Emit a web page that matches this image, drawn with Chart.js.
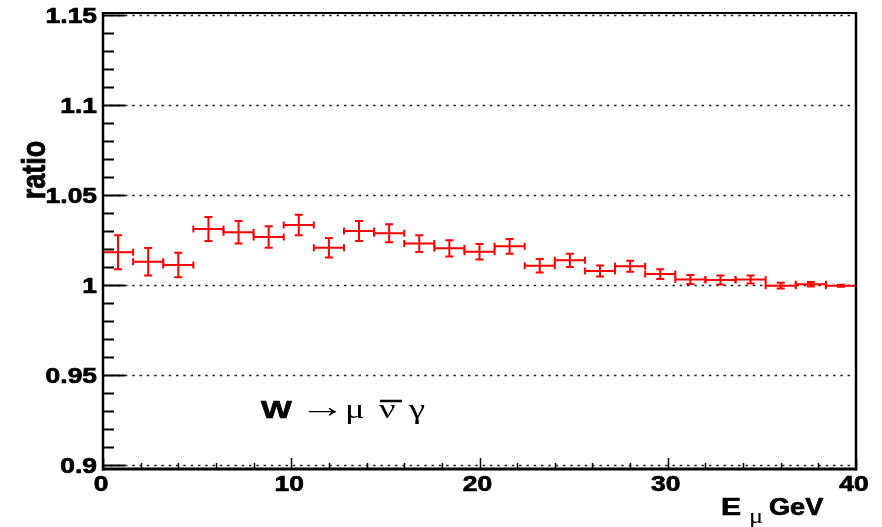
<!DOCTYPE html>
<html>
<head>
<meta charset="utf-8">
<script src="https://cdn.jsdelivr.net/npm/chart.js@4.4.1/dist/chart.umd.min.js"></script>
<style>
  html, body { margin: 0; padding: 0; background: #fff; }
  #wrap { width: 882px; height: 527px; }
</style>
</head>
<body>
<div id="wrap"><canvas id="ratioChart" width="882" height="527"></canvas></div>
<script>
// muon energy bins (GeV): centres and half width
const binCenters = [0.8, 2.4, 4.0, 5.6, 7.2, 8.8, 10.4, 12.0, 13.6, 15.2, 16.8, 18.4, 20.0,
                    21.6, 23.2, 24.8, 26.4, 28.0, 29.6, 31.2, 32.8, 34.4, 36.0, 37.6, 39.2];
const binHalfWidth = 0.8;

// ratio per bin and its statistical error
const ratioValues = [1.0182, 1.0129, 1.0111, 1.0311, 1.0293, 1.0267, 1.0333, 1.0207, 1.0300,
                     1.0287, 1.0230, 1.0204, 1.0185, 1.0215, 1.0107, 1.0137, 1.0078, 1.0104,
                     1.0061, 1.0031, 1.0028, 1.0031, 0.9996, 1.0004, 0.9996];
const ratioErrors = [0.0095, 0.0076, 0.0068, 0.0067, 0.0062, 0.0060, 0.0057, 0.0054, 0.0055,
                     0.0050, 0.0046, 0.0045, 0.0043, 0.0041, 0.0038, 0.0037, 0.0031, 0.0031,
                     0.0027, 0.0025, 0.0025, 0.0022, 0.0016, 0.0013, 0.0006];

// axis labels
const xTickLabels = [0, 10, 20, 30, 40];
const yTickLabels = [0.9, 0.95, 1, 1.05, 1.1, 1.15];
const xMinorStep = 2;
const yMinorStep = 0.01;

const SANS = '"Liberation Sans", Arial, Helvetica, sans-serif';
const SERIF = '"Liberation Serif", "DejaVu Serif", serif';
const STRETCH = 1.2;   // the root-style lettering is a bit wide

// draws text stretched horizontally; heavy adds an outline to fatten bold glyphs
function wideText(ctx, txt, x, y, font, align, sx, heavy) {
    ctx.save();
    ctx.translate(x, y);
    ctx.scale(sx, 1);
    ctx.font = font;
    ctx.textAlign = align;
    ctx.textBaseline = 'alphabetic';
    ctx.fillStyle = '#000';
    ctx.fillText(txt, 0, 0);
    if (heavy) {
        ctx.strokeStyle = '#000';
        ctx.lineWidth = 0.7;
        ctx.lineJoin = 'round';
        ctx.strokeText(txt, 0, 0);
    }
    ctx.restore();
}

// white background + dotted horizontal grid under the points
const gridPlugin = {
    id: 'rootGrid',
    beforeDraw(chart) {
        const ctx = chart.ctx;
        ctx.save();
        ctx.fillStyle = '#fff';
        ctx.fillRect(0, 0, chart.width, chart.height);
        ctx.restore();
    },
    beforeDatasetsDraw(chart) {
        const ctx = chart.ctx;
        const area = chart.chartArea;
        const y = chart.scales.y;
        ctx.save();
        ctx.strokeStyle = '#222';
        ctx.lineWidth = 1.5;
        ctx.setLineDash([2.5, 4.8]);
        yTickLabels.forEach(function(v) {
            const py = Math.round(y.getPixelForValue(v)) + 0.5;
            ctx.beginPath();
            ctx.moveTo(area.left, py);
            ctx.lineTo(area.right, py);
            ctx.stroke();
        });
        ctx.restore();
    }
};

// horizontal (bin width) and vertical (error) bars with end caps
const errorBarPlugin = {
    id: 'errorBars',
    afterDatasetsDraw(chart) {
        const ctx = chart.ctx;
        const xs = chart.scales.x;
        const ys = chart.scales.y;
        ctx.save();
        ctx.strokeStyle = '#ff0000';
        ctx.lineWidth = 2;
        binCenters.forEach(function(xc, i) {
            const px = xs.getPixelForValue(xc);
            const x0 = xs.getPixelForValue(xc - binHalfWidth);
            const x1 = xs.getPixelForValue(xc + binHalfWidth);
            const py = ys.getPixelForValue(ratioValues[i]);
            const yLo = ys.getPixelForValue(ratioValues[i] - ratioErrors[i]);
            const yHi = ys.getPixelForValue(ratioValues[i] + ratioErrors[i]);
            ctx.beginPath();
            ctx.moveTo(x0, py); ctx.lineTo(x1, py);
            ctx.moveTo(x0, py - 3.5); ctx.lineTo(x0, py + 3.5);
            ctx.moveTo(x1, py - 3.5); ctx.lineTo(x1, py + 3.5);
            ctx.moveTo(px, yHi); ctx.lineTo(px, yLo);
            ctx.moveTo(px - 4, yHi); ctx.lineTo(px + 4, yHi);
            ctx.moveTo(px - 4, yLo); ctx.lineTo(px + 4, yLo);
            ctx.stroke();
        });
        ctx.restore();
    }
};

// frame, inward ticks, tick labels, titles and the process label
const framePlugin = {
    id: 'rootFrame',
    afterDraw(chart) {
        const ctx = chart.ctx;
        const area = chart.chartArea;
        const xs = chart.scales.x;
        const ys = chart.scales.y;
        const left = area.left, right = area.right;
        const top = area.top - 2, bottom = area.bottom + 4;

        ctx.save();
        ctx.strokeStyle = '#000';
        ctx.lineCap = 'butt';

        ctx.lineWidth = 2.5;
        ctx.beginPath();
        ctx.moveTo(left, top - 1); ctx.lineTo(left, bottom + 1.5);
        ctx.moveTo(right, top - 1); ctx.lineTo(right, bottom + 1.5);
        ctx.stroke();
        ctx.lineWidth = 2;
        ctx.beginPath();
        ctx.moveTo(left, top); ctx.lineTo(right + 1, top);
        ctx.stroke();
        ctx.lineWidth = 3;
        ctx.beginPath();
        ctx.moveTo(left - 1, bottom); ctx.lineTo(right + 1, bottom);
        ctx.stroke();

        // y ticks
        ctx.lineWidth = 2;
        ctx.beginPath();
        for (let v = ys.min; v <= ys.max + 1e-9; v += yMinorStep) {
            const py = Math.round(ys.getPixelForValue(v)) + 0.5;
            ctx.moveTo(left, py); ctx.lineTo(left + 11, py);
        }
        yTickLabels.forEach(function(v) {
            const py = Math.round(ys.getPixelForValue(v)) + 0.5;
            ctx.moveTo(left, py); ctx.lineTo(left + 22, py);
        });
        ctx.stroke();

        // x ticks
        ctx.lineWidth = 1.5;
        ctx.beginPath();
        for (let v = xs.min; v <= xs.max + 1e-9; v += xMinorStep) {
            const px = Math.round(xs.getPixelForValue(v)) + 0.5;
            ctx.moveTo(px, bottom); ctx.lineTo(px, bottom - 6);
        }
        xTickLabels.forEach(function(v) {
            const px = Math.round(xs.getPixelForValue(v)) + 0.5;
            ctx.moveTo(px, bottom); ctx.lineTo(px, bottom - 11);
        });
        ctx.stroke();
        ctx.restore();

        const tickFont = 'bold 22px ' + SANS;
        yTickLabels.forEach(function(v) {
            wideText(ctx, String(v), left - 6, ys.getPixelForValue(v) + 8, tickFont, 'right', STRETCH, true);
        });
        xTickLabels.forEach(function(v) {
            wideText(ctx, String(v), xs.getPixelForValue(v) - 2, 491, tickFont, 'center', STRETCH, true);
        });

        // y title, rotated
        ctx.save();
        ctx.translate(45, 170);
        ctx.rotate(-Math.PI / 2);
        ctx.scale(1, STRETCH);
        ctx.font = 'bold 27px ' + SANS;
        ctx.textAlign = 'center';
        ctx.fillStyle = '#000';
        ctx.strokeStyle = '#000';
        ctx.lineWidth = 0.7;
        ctx.fillText('ratio', 0, 0);
        ctx.strokeText('ratio', 0, 0);
        ctx.restore();

        // x title with subscript mu
        wideText(ctx, 'E', 721, 515, 'bold 24px ' + SANS, 'left', 1.25, true);
        wideText(ctx, '\u03bc', 749, 523, '22px ' + SERIF, 'left', 1.2, false);
        wideText(ctx, 'GeV', 769, 515, 'bold 24px ' + SANS, 'left', 1.13, true);

        // process label: W -> mu nubar gamma
        wideText(ctx, 'W', 261, 418, 'bold 24px ' + SANS, 'left', 1.36, true);
        wideText(ctx, '\u2192', 299, 417, '32px ' + SERIF, 'left', 1.45, false);
        wideText(ctx, '\u03bc', 345, 418, '27px ' + SERIF, 'left', 1.35, false);
        wideText(ctx, '\u03bd', 379, 418, '27px ' + SERIF, 'left', 1.35, false);
        wideText(ctx, '\u03b3', 409, 418, '27px ' + SERIF, 'left', 1.35, false);
        ctx.save();
        ctx.strokeStyle = '#000';
        ctx.lineWidth = 2.5;
        ctx.beginPath();
        ctx.moveTo(380, 401); ctx.lineTo(402, 401);
        ctx.stroke();
        ctx.restore();
    }
};

const ctx = document.getElementById('ratioChart').getContext('2d');
new Chart(ctx, {
    type: 'scatter',
    data: {
        datasets: [{
            label: 'ratio',
            data: binCenters.map(function(x, i) { return { x: x, y: ratioValues[i] }; }),
            pointRadius: 0,
            showLine: false
        }]
    },
    options: {
        responsive: false,
        animation: false,
        devicePixelRatio: 1,
        layout: { padding: { top: 15, right: 26, left: 0, bottom: 0 } },
        plugins: { legend: { display: false }, tooltip: { enabled: false } },
        scales: {
            x: {
                type: 'linear',
                min: 0,
                max: 40,
                ticks: { display: false, stepSize: 10 },
                grid: { display: false },
                border: { display: false },
                afterFit: function(scale) { scale.height = 62; }
            },
            y: {
                type: 'linear',
                min: 0.9,
                max: 1.15,
                ticks: { display: false, stepSize: 0.05 },
                grid: { display: false },
                border: { display: false },
                afterFit: function(scale) { scale.width = 103; }
            }
        }
    },
    plugins: [gridPlugin, errorBarPlugin, framePlugin]
});
</script>
</body>
</html>
